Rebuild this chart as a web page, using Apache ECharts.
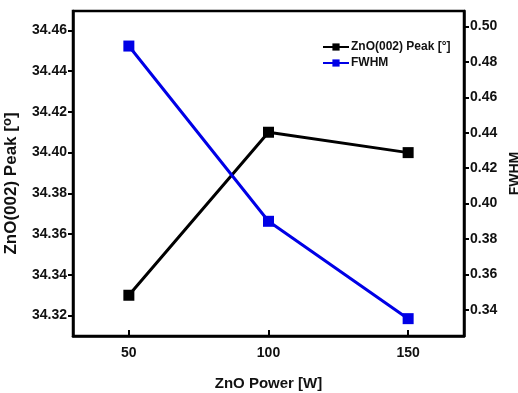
<!DOCTYPE html>
<html>
<head>
<meta charset="utf-8">
<script src="https://cdn.jsdelivr.net/npm/echarts@6/dist/echarts.min.js"></script>
<style>
  html, body { margin: 0; padding: 0; background: #fff; }
  #chart { width: 518px; height: 393px; }
</style>
</head>
<body>
<div id="chart"></div>
<script>
// ZnO power (x)
const powers = [50, 100, 150];
// ZnO(002) peak position, left axis
const peakValues = [34.33, 34.41, 34.40];
// FWHM, right axis
const fwhmValues = [0.489, 0.39, 0.335];
// tick labels
const xTicks = [50, 100, 150];
const peakTicks = [34.32, 34.34, 34.36, 34.38, 34.40, 34.42, 34.44, 34.46];
const fwhmTicks = [0.34, 0.36, 0.38, 0.40, 0.42, 0.44, 0.46, 0.48, 0.50];

const font = 'Liberation Sans, Arial, sans-serif';
let myChart = echarts.init(document.getElementById('chart'));

let labelStyle = {
  color: '#111',
  fontFamily: font,
  fontWeight: 'bold',
  fontSize: 14,
};

let option = {
  animation: false,
  grid: {
    left: 73,
    right: 54,
    top: 11,
    bottom: 57,
    outerBoundsMode: 'none',
    containLabel: false,
    show: true,
    borderColor: '#000',
    borderWidth: 2.5,
  },
  legend: {
    left: 317,
    top: 36,
    orient: 'vertical',
    itemWidth: 26,
    itemHeight: 9,
    itemGap: 4,
    textStyle: {
      color: '#111',
      fontFamily: font,
      fontWeight: 'bold',
      fontSize: 12,
      padding: [0, 0, 0, -3],
    },
    data: ['ZnO(002) Peak [°]', 'FWHM'],
  },
  xAxis: {
    type: 'value',
    min: 30,
    max: 170,
    name: 'ZnO Power [W]',
    nameLocation: 'middle',
    nameGap: 40,
    nameTextStyle: { ...labelStyle, fontSize: 15 },
    axisLine: { lineStyle: { color: '#000', width: 2.5 } },
    axisTick: { inside: true, length: 6, lineStyle: { width: 2 }, customValues: xTicks },
    axisLabel: { ...labelStyle, margin: 10, customValues: xTicks },
    splitLine: { show: false },
  },
  yAxis: [
    {
      type: 'value',
      min: 34.31,
      max: 34.4695,
      position: 'left',
      name: 'ZnO(002) Peak [{sup|o}]',
      nameLocation: 'middle',
      nameRotate: 90,
      nameGap: 51,
      nameTextStyle: {
        ...labelStyle,
        fontSize: 17,
        padding: [0, 20, 0, 0],
        rich: {
          sup: { fontFamily: font, fontWeight: 'bold', fontSize: 13, color: '#111', verticalAlign: 'top', padding: [0, 0, 8, 0] },
        },
      },
      axisLine: { show: true, lineStyle: { color: '#000', width: 2.5 } },
      axisTick: { show: true, length: 5, lineStyle: { width: 2 }, customValues: peakTicks },
      axisLabel: { ...labelStyle, margin: 6, customValues: peakTicks, formatter: (v) => v.toFixed(2) },
      splitLine: { show: false },
    },
    {
      type: 'value',
      min: 0.3252,
      max: 0.5088,
      position: 'right',
      name: 'FWHM',
      nameLocation: 'middle',
      nameRotate: 90,
      nameGap: 39,
      nameTextStyle: { ...labelStyle, fontSize: 14 },
      axisLine: { show: true, lineStyle: { color: '#000', width: 2.5 } },
      axisTick: { show: true, length: 5, lineStyle: { width: 2 }, customValues: fwhmTicks },
      axisLabel: { ...labelStyle, margin: 6, customValues: fwhmTicks, formatter: (v) => v.toFixed(2) },
      splitLine: { show: false },
    },
  ],
  series: [
    {
      name: 'ZnO(002) Peak [°]',
      type: 'line',
      yAxisIndex: 0,
      data: powers.map((p, i) => [p, peakValues[i]]),
      color: '#000',
      lineStyle: { width: 3 },
      symbol: 'rect',
      symbolSize: 11,
      itemStyle: { color: '#000' },
    },
    {
      name: 'FWHM',
      type: 'line',
      yAxisIndex: 1,
      data: powers.map((p, i) => [p, fwhmValues[i]]),
      color: '#0000e6',
      lineStyle: { width: 3 },
      symbol: 'rect',
      symbolSize: 11,
      itemStyle: { color: '#0000e6' },
    },
  ],
};

myChart.setOption(option);
</script>
</body>
</html>
